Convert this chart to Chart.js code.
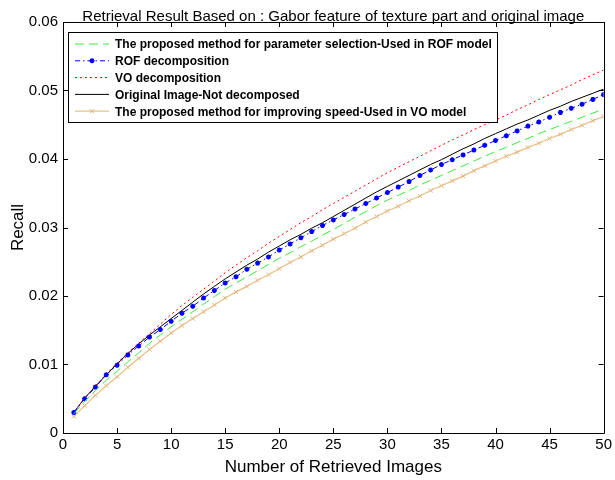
<!DOCTYPE html>
<html>
<head>
<meta charset="utf-8">
<script src="https://cdn.jsdelivr.net/npm/chart.js@4.4.0/dist/chart.umd.min.js"></script>
<style>
  html, body { margin: 0; padding: 0; background: #fff; }
</style>
</head>
<body>
<canvas id="recallChart" width="615" height="480"></canvas>
<script>
// number of retrieved images (x axis)
const retrieved = [1, 2, 3, 4, 5, 6, 7, 8, 9, 10, 11, 12, 13, 14, 15, 16, 17, 18, 19, 20,
  21, 22, 23, 24, 25, 26, 27, 28, 29, 30, 31, 32, 33, 34, 35, 36, 37, 38, 39, 40,
  41, 42, 43, 44, 45, 46, 47, 48, 49, 50];

// recall values
const proposedRof = [0.0028, 0.0046, 0.0062, 0.0077, 0.0090, 0.0104, 0.0117, 0.0131, 0.0143, 0.0155,
  0.0166, 0.0177, 0.0188, 0.0199, 0.0210, 0.0219, 0.0228, 0.0237, 0.0246, 0.0255,
  0.0263, 0.0272, 0.0280, 0.0289, 0.0297, 0.0306, 0.0315, 0.0323, 0.0332, 0.0340,
  0.0347, 0.0354, 0.0362, 0.0369, 0.0376, 0.0383, 0.0390, 0.0397, 0.0404, 0.0411,
  0.0417, 0.0424, 0.0430, 0.0437, 0.0443, 0.0449, 0.0455, 0.0461, 0.0467, 0.0473];

const rofDecomp = [0.0030, 0.0050, 0.0067, 0.0085, 0.0099, 0.0114, 0.0127, 0.0140, 0.0151, 0.0163,
  0.0175, 0.0185, 0.0197, 0.0208, 0.0219, 0.0228, 0.0239, 0.0248, 0.0257, 0.0267,
  0.0276, 0.0285, 0.0294, 0.0303, 0.0311, 0.0319, 0.0327, 0.0335, 0.0343, 0.0351,
  0.0359, 0.0367, 0.0376, 0.0384, 0.0392, 0.0399, 0.0406, 0.0413, 0.0420, 0.0427,
  0.0434, 0.0441, 0.0448, 0.0454, 0.0461, 0.0468, 0.0474, 0.0480, 0.0487, 0.0494];

const voDecomp = [0.0030, 0.0051, 0.0069, 0.0086, 0.0102, 0.0117, 0.0131, 0.0145, 0.0159, 0.0173,
  0.0186, 0.0198, 0.0210, 0.0222, 0.0234, 0.0245, 0.0256, 0.0266, 0.0277, 0.0287,
  0.0297, 0.0307, 0.0316, 0.0326, 0.0335, 0.0344, 0.0353, 0.0362, 0.0371, 0.0380,
  0.0388, 0.0396, 0.0404, 0.0412, 0.0420, 0.0428, 0.0435, 0.0443, 0.0450, 0.0457,
  0.0464, 0.0472, 0.0479, 0.0487, 0.0494, 0.0501, 0.0508, 0.0516, 0.0523, 0.0530];

const original = [0.0030, 0.0051, 0.0068, 0.0085, 0.0101, 0.0116, 0.0130, 0.0143, 0.0155, 0.0167,
  0.0179, 0.0191, 0.0203, 0.0214, 0.0225, 0.0235, 0.0245, 0.0254, 0.0264, 0.0273,
  0.0282, 0.0290, 0.0299, 0.0307, 0.0316, 0.0325, 0.0334, 0.0343, 0.0352, 0.0360,
  0.0368, 0.0376, 0.0384, 0.0392, 0.0399, 0.0407, 0.0415, 0.0422, 0.0430, 0.0437,
  0.0444, 0.0451, 0.0457, 0.0464, 0.0471, 0.0477, 0.0484, 0.0490, 0.0496, 0.0502];

const proposedVo = [0.0024, 0.0040, 0.0055, 0.0069, 0.0082, 0.0096, 0.0109, 0.0122, 0.0134, 0.0146,
  0.0157, 0.0167, 0.0177, 0.0187, 0.0197, 0.0206, 0.0214, 0.0223, 0.0231, 0.0240,
  0.0249, 0.0257, 0.0266, 0.0274, 0.0283, 0.0291, 0.0299, 0.0308, 0.0316, 0.0324,
  0.0331, 0.0339, 0.0346, 0.0354, 0.0361, 0.0368, 0.0375, 0.0383, 0.0390, 0.0397,
  0.0404, 0.0410, 0.0417, 0.0423, 0.0430, 0.0436, 0.0443, 0.0449, 0.0456, 0.0462];

const seriesNames = [
  "The proposed method for parameter selection-Used in ROF model",
  "ROF decomposition",
  "VO decomposition",
  "Original Image-Not decomposed",
  "The proposed method for improving speed-Used in VO model"
];

const xTicks = [0, 5, 10, 15, 20, 25, 30, 35, 40, 45, 50];
const yTicks = [0, 0.01, 0.02, 0.03, 0.04, 0.05, 0.06];
const yTickLabels = ["0", "0.01", "0.02", "0.03", "0.04", "0.05", "0.06"];

const chartTitle = "Retrieval Result Based on : Gabor feature of texture part and original image";

const FONT = "'Liberation Sans', Arial, sans-serif";

function pairs(values) {
  return retrieved.map((x, i) => ({ x: x, y: values[i] }));
}

// MATLAB-style box with inward ticks
const framePlugin = {
  id: "frame",
  afterDatasetsDraw(chart) {
    const { ctx, chartArea: a, scales } = chart;
    ctx.save();
    ctx.strokeStyle = "#000";
    ctx.lineWidth = 1;
    ctx.beginPath();
    ctx.rect(Math.round(a.left) + 0.5, Math.round(a.top) + 0.5,
      Math.round(a.right - a.left), Math.round(a.bottom - a.top));
    ctx.stroke();
    const len = 5;
    ctx.beginPath();
    xTicks.forEach(v => {
      const px = Math.round(scales.x.getPixelForValue(v)) + 0.5;
      ctx.moveTo(px, a.bottom); ctx.lineTo(px, a.bottom - len);
      ctx.moveTo(px, a.top); ctx.lineTo(px, a.top + len);
    });
    yTicks.forEach(v => {
      const py = Math.round(scales.y.getPixelForValue(v)) + 0.5;
      ctx.moveTo(a.left, py); ctx.lineTo(a.left + len, py);
      ctx.moveTo(a.right, py); ctx.lineTo(a.right - len, py);
    });
    ctx.stroke();
    ctx.restore();
  }
};

// legend box in the upper left, drawn from the datasets
const legendPlugin = {
  id: "boxLegend",
  afterDraw(chart) {
    const ctx = chart.ctx;
    const box = { x: 68.5, y: 32.5, w: 429, h: 90 };
    ctx.save();
    ctx.fillStyle = "#fff";
    ctx.fillRect(box.x, box.y, box.w, box.h);
    ctx.strokeStyle = "#000";
    ctx.lineWidth = 1;
    ctx.strokeRect(box.x, box.y, box.w, box.h);
    ctx.font = "bold 12px " + FONT;
    ctx.textBaseline = "middle";
    chart.data.datasets.forEach((ds, i) => {
      const y = 44 + i * 16.8;
      ctx.strokeStyle = ds.borderColor;
      ctx.lineWidth = ds.borderWidth;
      ctx.setLineDash(ds.borderDash || []);
      ctx.beginPath();
      ctx.moveTo(75, y);
      ctx.lineTo(109, y);
      ctx.stroke();
      ctx.setLineDash([]);
      if (ds.pointRadius > 0) {
        ctx.strokeStyle = ds.pointBorderColor || ds.borderColor;
        ctx.fillStyle = ds.pointBorderColor || ds.borderColor;
        ctx.lineWidth = ds.pointBorderWidth;
        Chart.helpers.drawPoint(ctx, {
          pointStyle: ds.pointStyle, radius: ds.pointRadius,
          borderWidth: ds.pointBorderWidth, rotation: 0
        }, 92, y);
      }
      ctx.fillStyle = "#000";
      ctx.fillText(ds.label, 115, y + 1);
    });
    ctx.restore();
  }
};

const titlePlugin = {
  id: "topTitle",
  afterDraw(chart) {
    const { ctx, chartArea: a } = chart;
    ctx.save();
    ctx.font = "15px " + FONT;
    ctx.fillStyle = "#000";
    ctx.textAlign = "center";
    ctx.textBaseline = "alphabetic";
    ctx.fillText(chartTitle, (a.left + a.right) / 2, 21);
    ctx.restore();
  }
};

new Chart(document.getElementById("recallChart"), {
  type: "line",
  data: {
    datasets: [
      {
        label: seriesNames[0], data: pairs(proposedRof),
        borderColor: "rgb(60,235,60)", borderWidth: 1, borderDash: [9, 5],
        pointRadius: 0, tension: 0
      },
      {
        label: seriesNames[1], data: pairs(rofDecomp),
        borderColor: "rgb(0,0,255)", borderWidth: 1, borderDash: [5, 3, 1.5, 3],
        pointStyle: "star", pointRadius: 2.5, pointBorderWidth: 1.5,
        pointBorderColor: "rgb(0,0,255)", pointBackgroundColor: "rgb(0,0,255)", tension: 0
      },
      {
        label: seriesNames[2], data: pairs(voDecomp),
        borderColor: "rgb(255,0,0)", borderWidth: 1, borderDash: [2, 3],
        pointRadius: 0, tension: 0
      },
      {
        label: seriesNames[3], data: pairs(original),
        borderColor: "#000", borderWidth: 1, borderDash: [],
        pointRadius: 0, tension: 0
      },
      {
        label: seriesNames[4], data: pairs(proposedVo),
        borderColor: "rgb(232,192,135)", borderWidth: 1.2, borderDash: [],
        pointStyle: "crossRot", pointRadius: 3, pointBorderWidth: 1,
        pointBorderColor: "rgb(225,180,120)", tension: 0
      }
    ]
  },
  options: {
    responsive: false,
    devicePixelRatio: 1,
    animation: false,
    layout: { padding: { top: 22, right: 8, left: 0, bottom: 0 } },
    plugins: {
      legend: { display: false },
      title: { display: false },
      tooltip: { enabled: false }
    },
    scales: {
      x: {
        type: "linear", min: 0, max: 50,
        afterBuildTicks: s => { s.ticks = xTicks.map(v => ({ value: v })); },
        afterFit: s => { s.height = 47; },
        grid: { display: false, drawTicks: false },
        border: { display: false },
        ticks: {
          autoSkip: false, maxRotation: 0, padding: 3,
          color: "#000", font: { family: FONT, size: 15 },
          callback: v => String(v)
        },
        title: {
          display: true, text: "Number of Retrieved Images",
          color: "#000", font: { family: FONT, size: 17 },
          padding: { top: 0, bottom: 2 }
        }
      },
      y: {
        min: 0, max: 0.06,
        afterBuildTicks: s => { s.ticks = yTicks.map(v => ({ value: v })); },
        afterFit: s => { s.width = 63; },
        grid: { display: false, drawTicks: false },
        border: { display: false },
        ticks: {
          padding: 5, color: "#000", font: { family: FONT, size: 15 },
          callback: (v, i) => yTickLabels[i]
        },
        title: {
          display: true, text: "Recall",
          color: "#000", font: { family: FONT, size: 17 },
          padding: { top: 8, bottom: 0 }
        }
      }
    }
  },
  plugins: [framePlugin, legendPlugin, titlePlugin]
});
</script>
</body>
</html>
